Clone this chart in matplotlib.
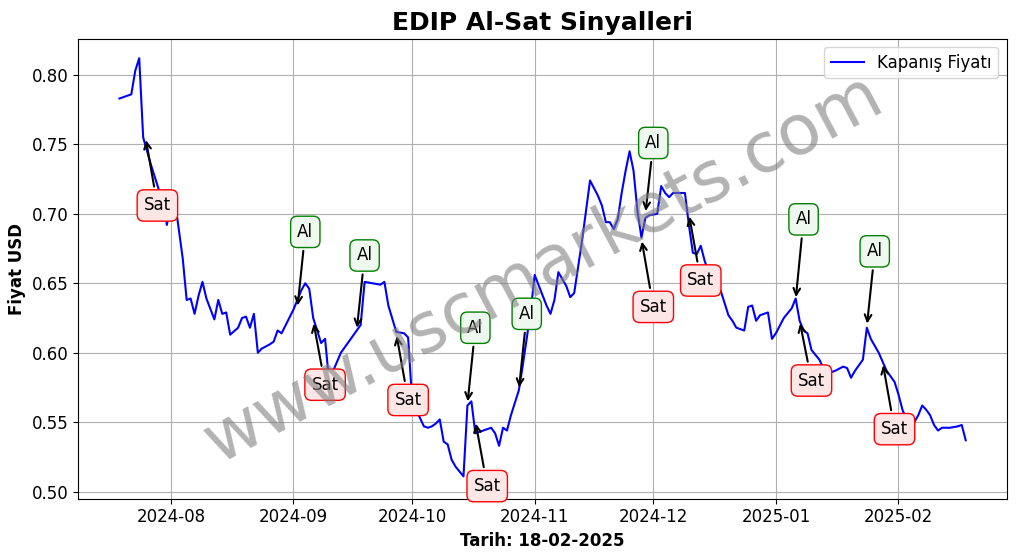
import numpy as np
import pandas as pd
import matplotlib
matplotlib.use("Agg")
import matplotlib.pyplot as plt
import matplotlib.dates as mdates

start = pd.Timestamp("2024-07-19")

# days since start, closing price
days = [0, 3, 4, 5, 6, 8, 10, 11, 12, 13, 14, 16, 17, 18, 19, 20, 21, 22, 24, 25, 26, 27, 28, 30, 31, 32, 33, 34, 35,
        36, 38, 39, 40, 41, 44, 46, 47, 48, 49, 50, 51, 52, 53, 56, 60, 61, 62, 64, 66, 67, 68, 70, 72, 73, 74, 76, 77,
        78, 79, 80, 81, 82, 83, 84, 85, 87, 88, 89, 90, 92, 94, 95, 96, 97, 98, 99, 101, 102, 104, 105, 108, 109, 110,
        111, 113, 114, 115, 117, 119, 121, 122, 123, 124, 125, 126, 127, 128, 129, 130, 131, 132, 133, 134, 136, 137,
        138, 139, 140, 142, 143, 144, 145, 146, 147, 148, 149, 150, 152, 154, 155, 156, 158, 159, 160, 161, 162, 164,
        165, 166, 168, 170, 171, 172, 173, 174, 175, 177, 178, 179, 180, 181, 183, 184, 185, 186, 188, 189, 190, 192,
        194, 196, 197, 198, 199, 201, 202, 203, 204, 205, 206, 207, 208, 210, 212, 213, 214]
prices = [0.783, 0.786, 0.803, 0.812, 0.755, 0.735, 0.717, 0.710, 0.692, 0.710, 0.710, 0.668, 0.638, 0.639, 0.628,
          0.641, 0.651, 0.639, 0.624, 0.638, 0.628, 0.629, 0.613, 0.618, 0.625, 0.626, 0.618, 0.628, 0.600, 0.603,
          0.606, 0.608, 0.616, 0.614, 0.631, 0.645, 0.650, 0.646, 0.625, 0.616, 0.607, 0.610, 0.580, 0.600, 0.616,
          0.620, 0.651, 0.650, 0.649, 0.651, 0.634, 0.615, 0.614, 0.611, 0.566, 0.553, 0.547, 0.546, 0.547, 0.549,
          0.552, 0.536, 0.534, 0.523, 0.518, 0.511, 0.562, 0.565, 0.542, 0.544, 0.546, 0.542, 0.533, 0.546, 0.544,
          0.555, 0.573, 0.591, 0.630, 0.656, 0.634, 0.628, 0.638, 0.658, 0.648, 0.640, 0.643, 0.681, 0.724, 0.713,
          0.706, 0.694, 0.694, 0.689, 0.696, 0.715, 0.731, 0.745, 0.731, 0.702, 0.683, 0.697, 0.699, 0.700, 0.720,
          0.715, 0.712, 0.715, 0.715, 0.715, 0.692, 0.672, 0.671, 0.677, 0.666, 0.658, 0.648, 0.645, 0.627, 0.623,
          0.618, 0.616, 0.633, 0.634, 0.623, 0.627, 0.629, 0.610, 0.614, 0.625, 0.632, 0.639, 0.623, 0.616, 0.614,
          0.602, 0.595, 0.589, 0.584, 0.586, 0.587, 0.590, 0.589, 0.582, 0.587, 0.595, 0.618, 0.610, 0.600, 0.587,
          0.579, 0.570, 0.559, 0.552, 0.550, 0.555, 0.562, 0.559, 0.555, 0.548, 0.544, 0.546, 0.546, 0.547, 0.548,
          0.537]
assert len(days) == len(prices)

# signals: type, arrow day, arrow price, label day, label price
sig_type = ["Sat", "Al", "Sat", "Al", "Sat", "Al", "Sat", "Al", "Al", "Sat", "Sat", "Al", "Sat", "Al", "Sat"]
sig_day = [6.6, 45, 49, 60, 70, 88, 90, 101, 133, 132, 144, 171, 172, 189, 193]
sig_price = [0.755, 0.632, 0.623, 0.616, 0.614, 0.563, 0.551, 0.573, 0.700, 0.682, 0.700, 0.638, 0.623, 0.619, 0.593]
lbl_day = [9.6, 47, 52, 62, 73, 90, 93, 103, 135, 135, 147, 173, 175, 191, 196]
lbl_price = [0.706, 0.687, 0.577, 0.670, 0.566, 0.618, 0.504, 0.628, 0.751, 0.633, 0.652, 0.696, 0.580, 0.673, 0.545]

dates = start + pd.to_timedelta(days, unit="D")

fig, ax = plt.subplots(figsize=(10.17, 5.54), dpi=100)
fig.subplots_adjust(left=0.077, right=0.99, top=0.93, bottom=0.10)
ax.plot(dates, prices, color="blue", label="Kapanış Fiyatı")

for t, d, p, ld, lp in zip(sig_type, sig_day, sig_price, lbl_day, lbl_price):
    if t == "Al":
        ec, fc = "green", "#eef8ee"
    else:
        ec, fc = "red", "#fde6e6"
    ax.annotate(t, xy=(start + pd.Timedelta(days=d), p), xytext=(start + pd.Timedelta(days=ld), lp),
                ha="center", va="center", fontsize=12,
                bbox=dict(boxstyle="round,pad=0.4", ec=ec, fc=fc),
                arrowprops=dict(arrowstyle="->", color="black", lw=1.5))

ax.text(0.5, 0.5, "www.uscmarkets.com", transform=ax.transAxes, fontsize=50, color="gray",
        alpha=0.6, rotation=28, ha="center", va="center")

ax.set_xlim(start - pd.Timedelta(days=10.4), start + pd.Timedelta(days=224.4))
ax.set_ylim(0.495, 0.826)
ax.xaxis.set_major_locator(mdates.MonthLocator())
ax.xaxis.set_major_formatter(mdates.DateFormatter("%Y-%m"))
ax.tick_params(labelsize=12)
ax.grid(True)
ax.set_title("EDIP Al-Sat Sinyalleri", fontsize=18, fontweight="bold")
ax.set_xlabel("Tarih: 18-02-2025", fontsize=12, fontweight="bold")
ax.set_ylabel("Fiyat USD", fontsize=12, fontweight="bold")
ax.legend(loc="upper right", fontsize=12)
fig.savefig("out.png")
